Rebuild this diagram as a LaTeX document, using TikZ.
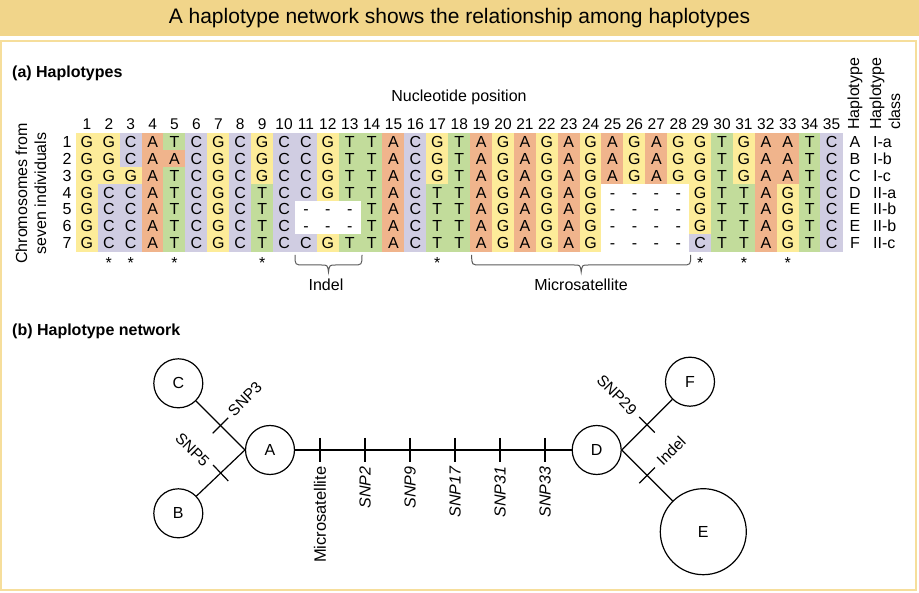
\documentclass[tikz,border=0pt]{standalone}
\usepackage{fontspec}
\setmainfont{Liberation Sans}
\usetikzlibrary{calc}

\definecolor{colG}{RGB}{253,236,153}
\definecolor{colC}{RGB}{208,205,226}
\definecolor{colA}{RGB}{240,180,140}
\definecolor{colT}{RGB}{194,220,155}
\definecolor{colD}{RGB}{255,255,255}
\definecolor{titlebg}{RGB}{241,213,138}
\definecolor{framecol}{RGB}{246,222,155}
\definecolor{bracecol}{RGB}{90,90,90}

\def\chG{G}\def\chC{C}\def\chA{A}\def\chT{T}\def\chD{-}
\newcommand\hbrace[2]{%
  \draw[bracecol, line width=1pt]
    (#1,255) .. controls (#1,265) .. ({#1+9},265) -- ({(#1+#2)/2-7},265)
    .. controls ({(#1+#2)/2-1},265) .. ({(#1+#2)/2},272)
    .. controls ({(#1+#2)/2+1},265) .. ({(#1+#2)/2+7},265) -- ({#2-9},265)
    .. controls (#2,265) .. (#2,255);}

\begin{document}
\begin{tikzpicture}[x=1pt,y=-1pt,
  txt/.style={font=\fontsize{16}{19}\selectfont, inner sep=0pt},
  rowtxt/.style={txt, text height=11.5pt, text depth=0pt},
  numtxt/.style={font=\fontsize{15.5}{18}\selectfont, inner sep=0pt, text height=11.1pt, text depth=0pt},
  star/.style={font=\fontsize{16}{18}\selectfont, inner sep=0pt},
  circ/.style={draw, circle, line width=1.2pt, minimum size=49pt, inner sep=0pt, font=\fontsize{16}{19}\selectfont},
  net/.style={line width=1.2pt},
  lab/.style={font=\fontsize{15.5}{18}\selectfont, inner sep=0pt},
  mlab/.style={font=\fontsize{16.5}{19}\selectfont, inner sep=0pt},
  ilab/.style={font=\fontsize{16}{19}\selectfont\itshape, inner sep=0pt},
]
\useasboundingbox (0,0) rectangle (919,593);
% title
\fill[titlebg] (0,0) rectangle (919,36);
\node[font=\fontsize{21}{24}\selectfont, inner sep=0pt] (title) at (459.5,18) {A haplotype network shows the relationship among haplotypes};
\draw[framecol, line width=2pt] (1,41) rectangle (916,590);

% (a)
\node[txt, font=\fontsize{16}{19}\selectfont\bfseries, anchor=west] (alab) at (12,73) {(a) Haplotypes};
\node[txt] (nucpos) at (459,97) {Nucleotide position};
\node[txt, rotate=90, align=center] (chrom) at (31,193.5) {Chromosomes from\\seven individuals};
\node[txt, rotate=90, anchor=west] (haph) at (855,130) {Haplotype};
\node[txt, rotate=90, anchor=west, align=left] (hapc) at (885,130) {Haplotype\\class};

% cells
\foreach \seq [count=\r] in {
 {G,G,C,A,T,C,G,C,G,C,C,G,T,T,A,C,G,T,A,G,A,G,A,G,A,G,A,G,G,T,G,A,A,T,C},
 {G,G,C,A,A,C,G,C,G,C,C,G,T,T,A,C,G,T,A,G,A,G,A,G,A,G,A,G,G,T,G,A,A,T,C},
 {G,G,G,A,T,C,G,C,G,C,C,G,T,T,A,C,G,T,A,G,A,G,A,G,A,G,A,G,G,T,G,A,A,T,C},
 {G,C,C,A,T,C,G,C,T,C,C,G,T,T,A,C,T,T,A,G,A,G,A,G,D,D,D,D,G,T,T,A,G,T,C},
 {G,C,C,A,T,C,G,C,T,C,D,D,D,T,A,C,T,T,A,G,A,G,A,G,D,D,D,D,G,T,T,A,G,T,C},
 {G,C,C,A,T,C,G,C,T,C,D,D,D,T,A,C,T,T,A,G,A,G,A,G,D,D,D,D,G,T,T,A,G,T,C},
 {G,C,C,A,T,C,G,C,T,C,C,G,T,T,A,C,T,T,A,G,A,G,A,G,D,D,D,D,C,T,T,A,G,T,C}} {
  \foreach \l [count=\c] in \seq {
    \fill[col\l] ({76+(\c-1)*21.9-0.2},{133.2+(\r-1)*16.9-0.2}) rectangle ++(22.3,17.3);
    \node[rowtxt] (c\r-\c) at ({76+(\c-0.5)*21.9},{133.2+(\r-0.5)*16.9}) {\csname ch\l\endcsname};
  }
}
% column numbers
\foreach \c in {1,...,35} {
  \node[numtxt] (h\c) at ({76+(\c-0.5)*21.9},124) {\c};
}
% row numbers and haplotypes
\foreach \h/\cl [count=\r] in {A/I-a,B/I-b,C/I-c,D/II-a,E/II-b,E/II-b,F/II-c} {
  \node[rowtxt] (rn\r) at (67,{133.2+(\r-0.5)*16.9}) {\r};
  \node[rowtxt] (hl\r) at (855,{133.2+(\r-0.5)*16.9}) {\h};
  \node[rowtxt, anchor=west] (hc\r) at (873,{133.2+(\r-0.5)*16.9}) {\cl};
}
% stars
\foreach \c in {2,3,5,9,17,29,31,33} {
  \node[star] (s\c) at ({76+(\c-0.5)*21.9},263) {*};
}
% braces
\hbrace{295}{362}
\hbrace{471.7}{690.7}
\node[txt] (indel) at (326,285) {Indel};
\node[txt] (micro) at (581,285) {Microsatellite};

% (b)
\node[txt, font=\fontsize{16}{19}\selectfont\bfseries, anchor=west] (blab) at (12,331) {(b) Haplotype network};

\node[circ] (C) at (178.3,383.3) {C};
\node[circ] (B) at (178.3,513.3) {B};
\node[circ] (A) at (270,450) {A};
\node[circ] (D) at (596.7,450) {D};
\node[circ] (F) at (690,381.7) {F};
\node[circ, minimum size=86pt] (E) at (703.3,531.7) {E};

\draw[net] (C) -- (A.west) coordinate[pos=.5] (tC);
\draw[net] (B) -- (A.west) coordinate[pos=.5] (tB);
\draw[net] (F) -- (D.east) coordinate[pos=.5] (tF);
\draw[net] (E) -- (D.east) coordinate[pos=.5] (tE);
\draw[net] (A) -- (D);
\foreach \t/\e in {tC/A.west,tB/A.west,tF/D.east,tE/D.east} {
  \draw[net] ($(\t)!11pt!90:(\e)$) -- ($(\t)!11pt!-90:(\e)$);
}
\foreach \x/\n in {320/1,365/2,410/3,455/4,500/5,545/6} {
  \coordinate (m\n) at (\x,450);
  \draw[net] ($(m\n)+(0,-12)$) -- ($(m\n)+(0,12)$);
}
\node[mlab, rotate=90, anchor=east] (l1) at (320,466.5) {Microsatellite};
\node[ilab, rotate=90, anchor=east] (l2) at (365,466.5) {SNP2};
\node[ilab, rotate=90, anchor=east] (l3) at (410,466.5) {SNP9};
\node[ilab, rotate=90, anchor=east] (l4) at (455,466.5) {SNP17};
\node[ilab, rotate=90, anchor=east] (l5) at (500,466.5) {SNP31};
\node[ilab, rotate=90, anchor=east] (l6) at (545,466.5) {SNP33};

\node[lab, rotate=45] (snp3) at (245,399) {SNP3};
\node[lab, rotate=-45] (snp5) at (192.5,450) {SNP5};
\node[lab, rotate=-45] (snp29) at (617,395) {SNP29};
\node[lab, rotate=45] (indl) at (671,451) {Indel};
\end{tikzpicture}
\end{document}
